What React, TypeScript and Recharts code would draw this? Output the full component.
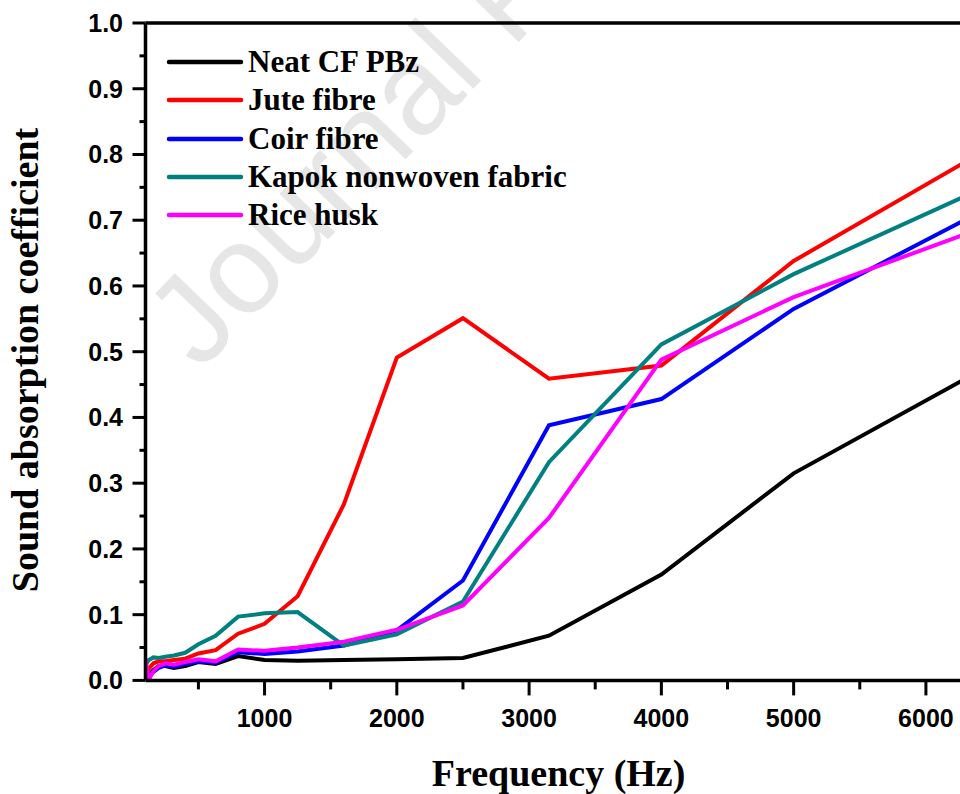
import React from 'react';
import { LineChart, Line, XAxis, YAxis, ReferenceLine } from 'recharts';

// one-third octave centre frequencies (Hz)
const FREQ = [100, 125, 160, 200, 250, 315, 400, 500, 630, 800, 1000, 1250, 1600, 2000, 2500, 3150, 4000, 5000, 6300];

const NEAT = [0.002, 0.008, 0.016, 0.022, 0.022, 0.019, 0.022, 0.028, 0.025, 0.037, 0.031, 0.030, 0.031, 0.032, 0.034, 0.068, 0.161, 0.315, 0.459];
const JUTE = [0.006, 0.018, 0.026, 0.029, 0.029, 0.031, 0.033, 0.041, 0.046, 0.071, 0.086, 0.128, 0.268, 0.491, 0.551, 0.459, 0.479, 0.638, 0.789];
const COIR = [0.002, 0.006, 0.013, 0.019, 0.023, 0.021, 0.025, 0.029, 0.027, 0.043, 0.040, 0.044, 0.053, 0.076, 0.152, 0.388, 0.428, 0.565, 0.701];
const KAPOK = [0.024, 0.031, 0.035, 0.034, 0.036, 0.038, 0.042, 0.055, 0.068, 0.097, 0.102, 0.104, 0.053, 0.070, 0.120, 0.332, 0.511, 0.618, 0.737];
const RICE = [0.033, 0.001, 0.014, 0.022, 0.026, 0.024, 0.028, 0.032, 0.029, 0.047, 0.045, 0.050, 0.059, 0.077, 0.114, 0.247, 0.488, 0.583, 0.679];

const X_TICKS = [500, 1000, 1500, 2000, 2500, 3000, 3500, 4000, 4500, 5000, 5500, 6000];
const X_LABELS = [1000, 2000, 3000, 4000, 5000, 6000];
const Y_TICKS = [0, 0.05, 0.1, 0.15, 0.2, 0.25, 0.3, 0.35, 0.4, 0.45, 0.5, 0.55, 0.6, 0.65, 0.7, 0.75, 0.8, 0.85, 0.9, 0.95, 1.0];
const Y_LABELS = [0, 0.1, 0.2, 0.3, 0.4, 0.5, 0.6, 0.7, 0.8, 0.9, 1.0];

const SERIES = [
  { key: 'neat', name: 'Neat CF PBz', color: '#000000', values: NEAT },
  { key: 'jute', name: 'Jute fibre', color: '#ff0000', values: JUTE },
  { key: 'coir', name: 'Coir fibre', color: '#0000ff', values: COIR },
  { key: 'kapok', name: 'Kapok nonwoven fabric', color: '#008080', values: KAPOK },
  { key: 'rice', name: 'Rice husk', color: '#ff00ff', values: RICE },
];

const data = FREQ.map((f, i) => {
  const row: any = { freq: f };
  SERIES.forEach(s => { row[s.key] = s.values[i]; });
  return row;
});

const AXIS_X = 145.5;
const AXIS_Y = 680.4;
const SANS = '"Liberation Sans", Arial, sans-serif';
const SERIF = '"Liberation Serif", "Times New Roman", serif';

const XTick = (props: any) => {
  const { x, payload } = props;
  const major = X_LABELS.includes(payload.value);
  return (
    <g>
      <line x1={x} x2={x} y1={AXIS_Y} y2={AXIS_Y + (major ? 15 : 9)} stroke="#000" strokeWidth={3} />
      {major && (
        <text x={x} y={726.5} textAnchor="middle" fontFamily={SANS} fontWeight="bold" fontSize={25} fill="#000">
          {payload.value}
        </text>
      )}
    </g>
  );
};

const YTick = (props: any) => {
  const { y, payload } = props;
  const major = Y_LABELS.some(v => Math.abs(v - payload.value) < 1e-6);
  return (
    <g>
      <line x1={AXIS_X - (major ? 13 : 6)} x2={AXIS_X} y1={y} y2={y} stroke="#000" strokeWidth={3} />
      {major && (
        <text x={123} y={y} dy="0.36em" textAnchor="end" fontFamily={SANS} fontWeight="bold" fontSize={25} fill="#000">
          {payload.value.toFixed(1)}
        </text>
      )}
    </g>
  );
};

const XTitle = (props: any) => {
  const { viewBox } = props;
  return (
    <text x={viewBox.x + viewBox.width / 2 + 3} y={786} textAnchor="middle" fontFamily={SERIF} fontWeight="bold" fontSize={38} fill="#000">
      Frequency (Hz)
    </text>
  );
};

const YTitle = () => (
  <text x={25} y={360} dy="0.33em" textAnchor="middle" transform="rotate(-90 25 360)" fontFamily={SERIF} fontWeight="bold" fontSize={38} fill="#000">
    Sound absorption coefficient
  </text>
);

const ChartLegend = () => (
  <div style={{ position: 'absolute', left: 166, top: 43, fontFamily: SERIF, fontWeight: 'bold', fontSize: 31, color: '#000' }}>
    {SERIES.map(s => (
      <div key={s.key} style={{ display: 'flex', alignItems: 'center', height: 38.3, whiteSpace: 'nowrap' }}>
        <svg width={78} height={8} style={{ marginRight: 4 }}>
          <line x1={3} x2={75} y1={4} y2={4} stroke={s.color} strokeWidth={4.5} strokeLinecap="round" />
        </svg>
        <span>{s.name}</span>
      </div>
    ))}
  </div>
);

export default function App() {
  return (
    <div style={{ position: 'absolute', left: 0, top: 0, width: 960, height: 794, overflow: 'hidden', background: '#fff' }}>
      <svg width={960} height={794} style={{ position: 'absolute', left: 0, top: 0 }}>
        <text x={200} y={372} transform="rotate(-46 200 372)" fontFamily={SANS} fontSize={126} fill="#e6e6e6">
          Journal Pre-proof
        </text>
      </svg>
      <div style={{ position: 'absolute', left: 0, top: 0 }}>
        <LineChart width={1000} height={794} data={data} margin={{ top: 23, right: 34.4, bottom: 53.6, left: 0 }}>
          <XAxis
            type="number"
            dataKey="freq"
            domain={[100, 6300]}
            ticks={X_TICKS}
            allowDataOverflow
            height={60}
            axisLine={{ stroke: '#000', strokeWidth: 3.5 }}
            tickLine={false}
            tick={(p: any) => <XTick {...p} />}
            label={(p: any) => <XTitle {...p} />}
          />
          <YAxis
            type="number"
            domain={[0, 1]}
            ticks={Y_TICKS}
            allowDataOverflow
            width={AXIS_X}
            axisLine={{ stroke: '#000', strokeWidth: 3.5 }}
            tickLine={false}
            tick={(p: any) => <YTick {...p} />}
            label={() => <YTitle />}
          />
          <ReferenceLine y={1} stroke="#000" strokeWidth={3.5} />
          <ReferenceLine x={6300} stroke="#000" strokeWidth={3.5} />
          {SERIES.map(s => (
            <Line
              key={s.key}
              type="linear"
              dataKey={s.key}
              name={s.name}
              stroke={s.color}
              strokeWidth={4}
              dot={false}
              isAnimationActive={false}
            />
          ))}
        </LineChart>
      </div>
      <ChartLegend />
    </div>
  );
}
